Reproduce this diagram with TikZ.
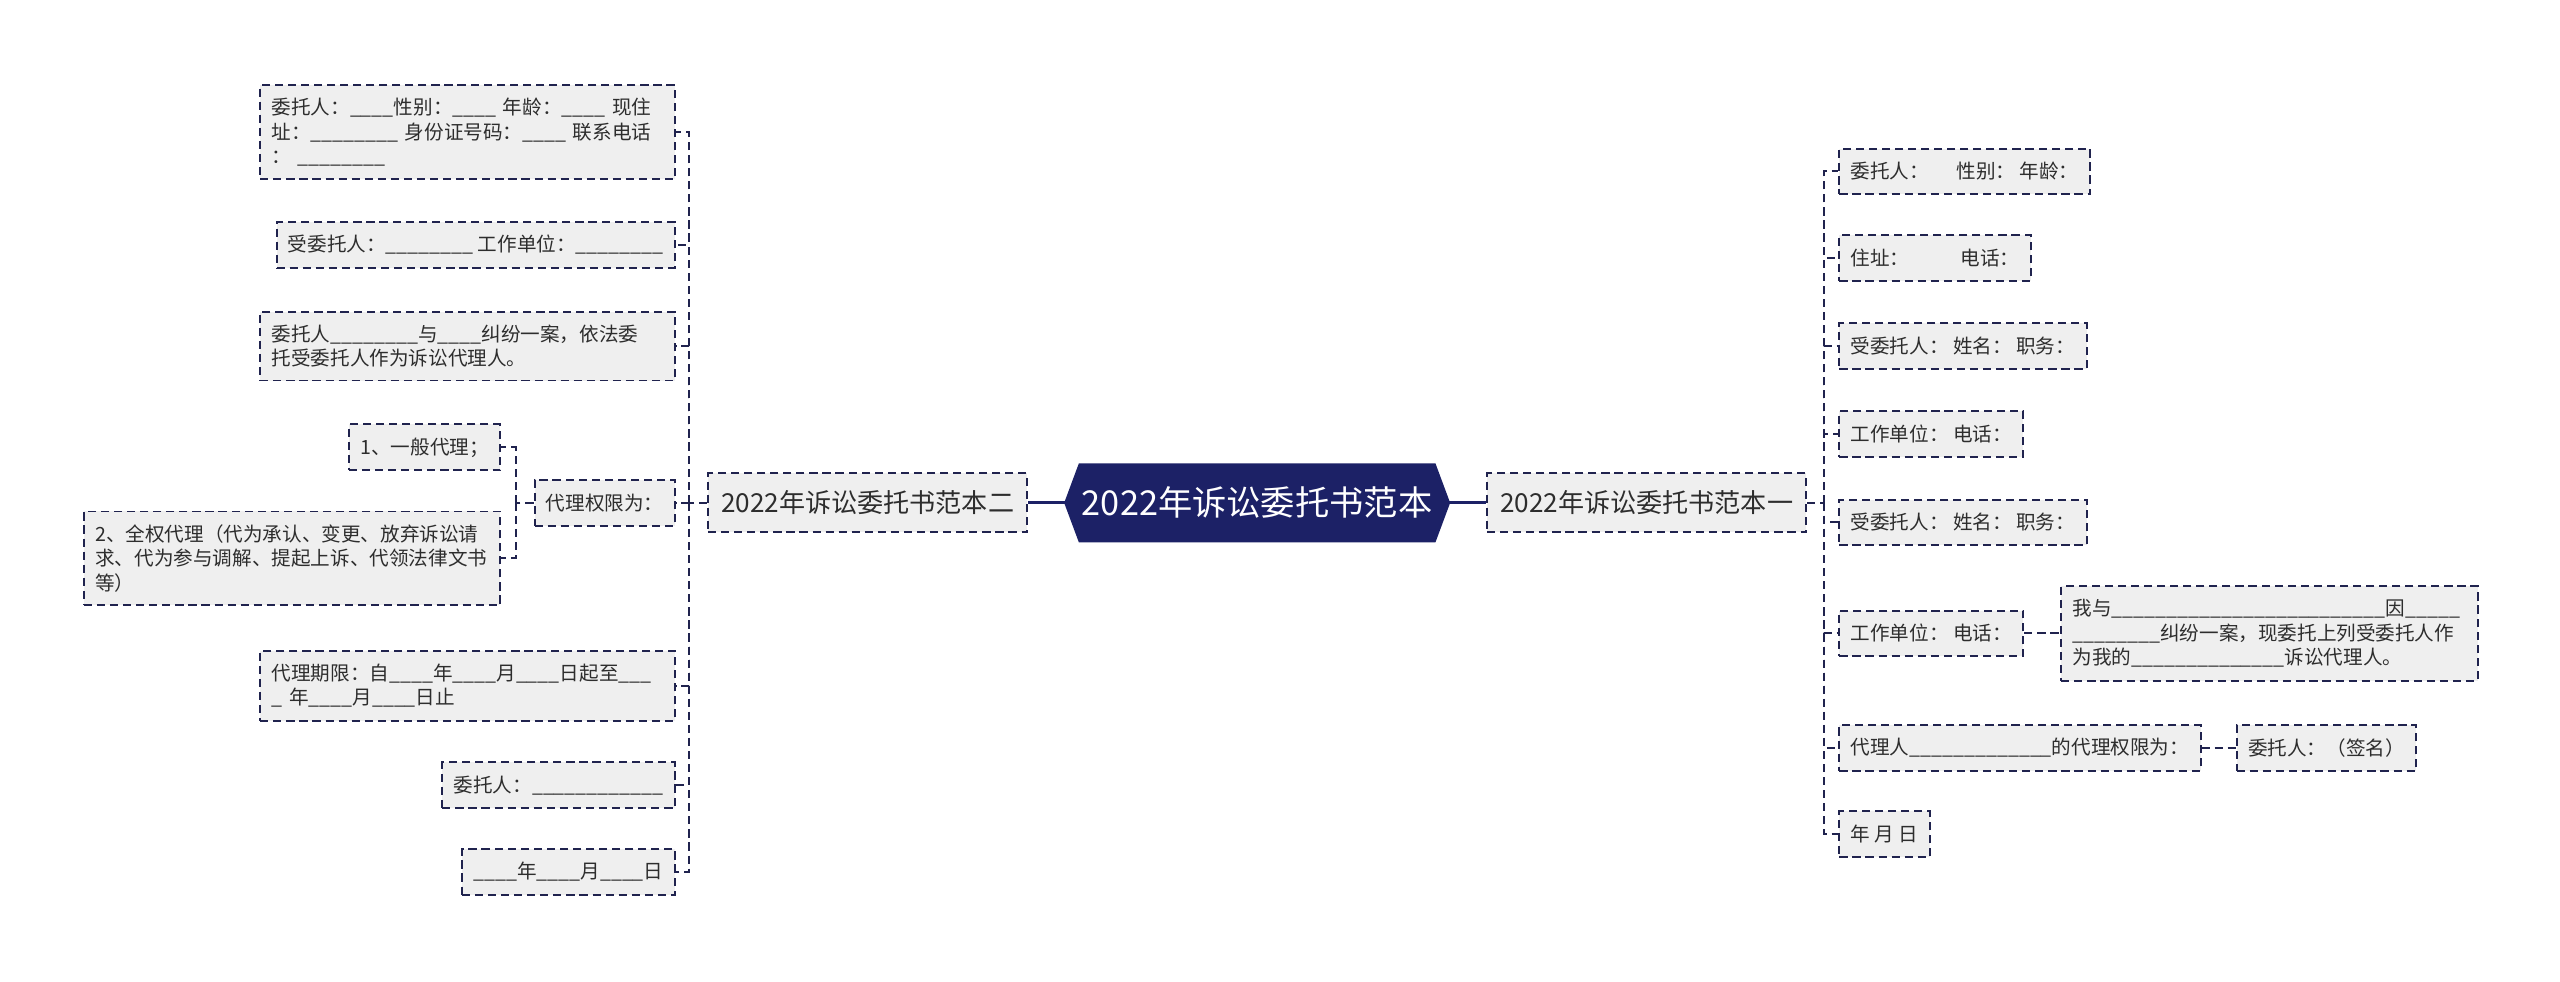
\documentclass[tikz,border=0pt]{standalone}
\usepackage{fontspec}
\newfontfamily\cjk{Noto Sans CJK SC}
\usetikzlibrary{positioning,calc}
\pgfdeclarelayer{background}
\pgfsetlayers{background,main}
\definecolor{navy}{RGB}{28,33,102}
\definecolor{linkblue}{RGB}{32,35,78}
\definecolor{leafgray}{RGB}{239,239,239}
\definecolor{inkgray}{RGB}{45,45,45}

\begin{document}
\catcode`\_=12
\begin{tikzpicture}[x=1pt, y=-1pt,
						every node/.style={font=\cjk},
						root/.style={text=white, inner sep=0pt, minimum width=218pt, minimum height=48pt, font=\cjk\fontsize{21pt}{25pt}\selectfont},
						branch/.style={draw=linkblue, line width=1.2pt, dash pattern=on 5pt off 3pt, fill=leafgray, text=inkgray, inner xsep=8pt, minimum height=36pt, font=\cjk\fontsize{16pt}{19pt}\selectfont},
						leaf/.style={draw=linkblue, line width=1.2pt, dash pattern=on 5pt off 3pt, fill=leafgray, text=inkgray, inner xsep=7pt, inner ysep=8pt, minimum height=28pt, align=left, font=\cjk\fontsize{12pt}{15pt}\selectfont},
						link/.style={draw=linkblue, line width=1.2pt, dash pattern=on 5pt off 3pt},
						stem/.style={draw=navy, line width=2pt},
						node distance=31pt]
	\useasboundingbox (0,0) rectangle (1568,601);

	\node[root] (r) at (770,308) {2022年诉讼委托书范本};
	\node[branch, right= of r] (x) {2022年诉讼委托书范本一};
	\node[branch, left= of r] (y) {2022年诉讼委托书范本二};

	\begin{pgfonlayer}{background}
		\fill[navy] (r.north west) -- (r.north east) -- ([xshift=9pt]r.east) -- (r.south east)
			-- (r.south west) -- ([xshift=-9pt]r.west) -- cycle;
	\end{pgfonlayer}

	% right side
	\node[leaf, anchor=west] (a1) at (1126,105) {委托人：\hspace{1.4em}性别： 年龄：};
	\node[leaf, anchor=west] (a2) at (1126,158) {住址：\hspace{2.6em}电话：};
	\node[leaf, anchor=west] (a3) at (1126,212) {受委托人： 姓名： 职务：};
	\node[leaf, anchor=west] (a4) at (1126,266) {工作单位： 电话：};
	\node[leaf, anchor=west] (a5) at (1126,320) {受委托人： 姓名： 职务：};
	\node[leaf, anchor=west] (a6) at (1126,388) {工作单位： 电话：};
	\node[leaf, anchor=west] (a7) at (1126,458) {代理人_____________的代理权限为：};
	\node[leaf, anchor=west] (a8) at (1126,511) {年 月 日};
	\node[leaf, anchor=west, text width=241pt, right=22pt of a6] (a6x) {我与_________________________因_____\\________纠纷一案，现委托上列受委托人作\\为我的______________诉讼代理人。};
	\node[leaf, anchor=west, right=21pt of a7] (a7x) {委托人：（签名）};

	% left side
	\node[leaf, anchor=east, text width=240pt] (b1) at (414,81) {委托人：____性别：____ 年龄：____ 现住\\址：________ 身份证号码：____ 联系电话\\： ________};
	\node[leaf, anchor=east] (b2) at (414,150) {受委托人：________ 工作单位：________};
	\node[leaf, anchor=east, text width=240pt] (b3) at (414,212) {委托人________与____纠纷一案，依法委\\托受委托人作为诉讼代理人。};
	\node[leaf, anchor=east] (b4) at (414,308) {代理权限为：};
	\node[leaf, anchor=east, text width=240pt] (b5) at (414,420) {代理期限：自____年____月____日起至___\\_ 年____月____日止};
	\node[leaf, anchor=east] (b6) at (414,481) {委托人：____________};
	\node[leaf, anchor=east] (b7) at (414,534) {____年____月____日};
	\node[leaf, anchor=east] (c1) at (307,274) {1、一般代理；};
	\node[leaf, anchor=east, text width=241pt] (c2) at (307,342) {2、全权代理（代为承认、变更、放弃诉讼请\\求、代为参与调解、提起上诉、代领法律文书\\等）};

	\coordinate (xr) at ([xshift=10pt]x.east);
	\coordinate (yl) at ([xshift=-11pt]y.west);
	\coordinate (b4l) at ([xshift=-11pt]b4.west);

	\draw[stem] (r) -- (x);
	\draw[stem] (r) -- (y);
	\draw[link] (x) -- (xr);
	\draw[link] (y) -- (yl);
	\draw[link] (b4) -- (b4l);
	\foreach \n in {a1,a2,a3,a4,a5,a6,a7,a8}
		\draw[link] (xr) |- (\n.west);
	\foreach \n in {b1,b2,b3,b4,b5,b6,b7}
		\draw[link] (yl) |- (\n.east);
	\foreach \n in {c1,c2}
		\draw[link] (b4l) |- (\n.east);
	\draw[link] (a6) -- (a6x);
	\draw[link] (a7) -- (a7x);
\end{tikzpicture}
\end{document}
